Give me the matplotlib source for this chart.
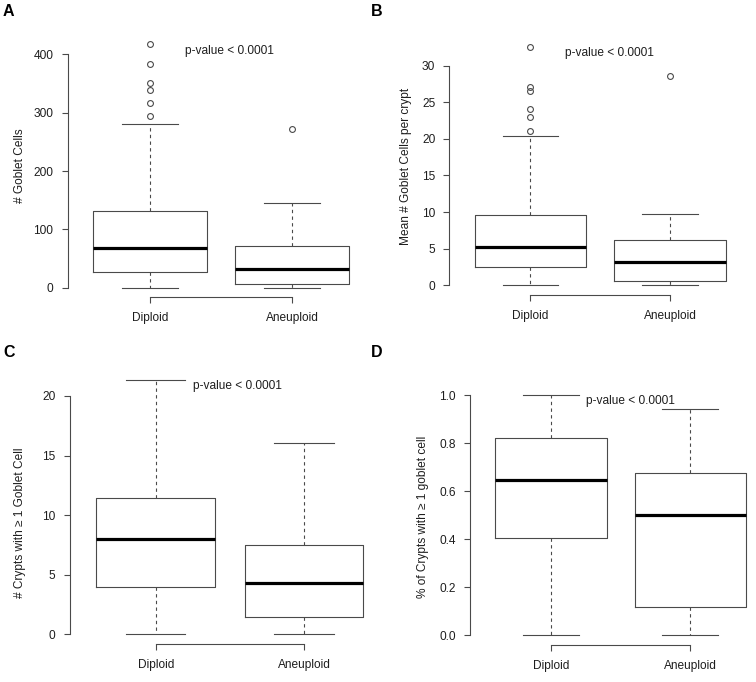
import matplotlib
matplotlib.use("Agg")
import matplotlib.pyplot as plt

plt.rcParams['font.family'] = ['Liberation Sans', 'DejaVu Sans']

W, H = 756, 682

groups = ['Diploid', 'Aneuploid']

# A: # goblet cells
a_q1 = [27, 6]
a_med = [68.6, 31.5]
a_q3 = [131, 71.5]
a_lo = [0, 0]
a_hi = [280, 146]
a_fliers = [[417, 383, 350, 339, 317, 295], [272]]

# B: mean goblet cells per crypt
b_q1 = [2.46, 0.63]
b_med = [5.27, 3.14]
b_q3 = [9.6, 6.19]
b_lo = [0, 0]
b_hi = [20.4, 9.78]
b_fliers = [[32.5, 27.1, 26.6, 24.1, 23.0, 21.1], [28.6]]

# C: crypts with >= 1 goblet cell
c_q1 = [4.0, 1.45]
c_med = [8.0, 4.28]
c_q3 = [11.43, 7.49]
c_lo = [0, 0]
c_hi = [21.3, 16.07]
c_fliers = [[], []]

# D: fraction of crypts with >= 1 goblet cell
d_q1 = [0.403, 0.118]
d_med = [0.645, 0.5]
d_q3 = [0.82, 0.676]
d_lo = [0, 0]
d_hi = [1.0, 0.94]
d_fliers = [[], []]

GRAY = '#4a4a4a'
TXT = '#1e1e1e'
FS = 8.6


def px_rect(left, right, top, bottom):
    return [left / W, (H - bottom) / H, (right - left) / W, (bottom - top) / H]


def panel(fig, rect, q1, med, q3, lo, hi, fliers, ylim, yticks, yfmt, ptxt_y):
    ax = fig.add_axes(rect)
    stats = []
    for i in range(len(groups)):
        stats.append(dict(q1=q1[i], med=med[i], q3=q3[i], whislo=lo[i],
                          whishi=hi[i], fliers=fliers[i], label=groups[i]))
    ax.bxp(stats, positions=[1, 2], widths=0.8, capwidths=0.4,
           boxprops=dict(color=GRAY, linewidth=0.8),
           whiskerprops=dict(color=GRAY, linewidth=0.8, linestyle=(0, (3, 3))),
           capprops=dict(color=GRAY, linewidth=0.8),
           medianprops=dict(color='black', linewidth=2.3, solid_capstyle='butt'),
           flierprops=dict(marker='o', markerfacecolor='none', markeredgecolor=GRAY,
                           markersize=4.2, markeredgewidth=0.8, linestyle='none'))
    ax.set_xlim(0.42, 2.58)
    ax.set_ylim(*ylim)
    for s in ['top', 'right']:
        ax.spines[s].set_visible(False)
    ax.spines['left'].set_bounds(yticks[0], yticks[-1])
    ax.spines['bottom'].set_bounds(1, 2)
    for s in ['left', 'bottom']:
        ax.spines[s].set_color(GRAY)
        ax.spines[s].set_linewidth(0.8)
    ax.set_yticks(yticks)
    ax.set_yticklabels([yfmt.format(v) for v in yticks])
    ax.set_xticks([1, 2])
    ax.set_xticklabels(groups)
    ax.tick_params(axis='both', direction='out', length=4.3, width=0.8,
                   color=GRAY, labelsize=FS, labelcolor=TXT)
    ax.tick_params(axis='y', pad=6)
    ax.tick_params(axis='x', pad=6.5)
    ax.patch.set_alpha(0)
    ax.text(1.25, ptxt_y, 'p-value < 0.0001', ha='left', va='center',
            fontsize=FS, color=TXT)
    return ax


fig = plt.figure(figsize=(W / 100, H / 100), dpi=100)

panel(fig, px_rect(67.6, 374.4, 34.6, 297.5), a_q1, a_med, a_q3, a_lo, a_hi, a_fliers,
      (-16.7, 433.7), [0, 100, 200, 300, 400], '{:.0f}', 406)
panel(fig, px_rect(449.5, 750.9, 37.9, 294.8), b_q1, b_med, b_q3, b_lo, b_hi, b_fliers,
      (-1.3, 33.8), [0, 5, 10, 15, 20, 25, 30], '{:.0f}', 31.8)
panel(fig, px_rect(69.7, 390.0, 370.3, 644.4), c_q1, c_med, c_q3, c_lo, c_hi, c_fliers,
      (-0.85, 22.15), [0, 5, 10, 15, 20], '{:.0f}', 20.8)
panel(fig, px_rect(470.2, 771.0, 385.4, 644.6), d_q1, d_med, d_q3, d_lo, d_hi, d_fliers,
      (-0.04, 1.04), [0.0, 0.2, 0.4, 0.6, 0.8, 1.0], '{:.1f}', 0.975)

# y axis labels
ylabels = [
    (20, 166, '# Goblet Cells'),
    (406, 166, 'Mean # Goblet Cells per crypt'),
    (20, 522.7, '# Crypts with \u2265 1 Goblet Cell'),
    (423, 516.7, '% of Crypts with \u2265 1 goblet cell'),
]
for x, y, t in ylabels:
    fig.text(x / W, 1 - y / H, t, rotation=90, ha='center', va='center',
             fontsize=FS, color=TXT)

# panel letters
for x, y, t in [(3, 4, 'A'), (371, 4, 'B'), (3, 345, 'C'), (371, 345, 'D')]:
    fig.text(x / W, 1 - y / H, t, ha='left', va='top', fontsize=11.5,
             fontweight='bold', color='black')

fig.savefig('out.png', dpi=100)
